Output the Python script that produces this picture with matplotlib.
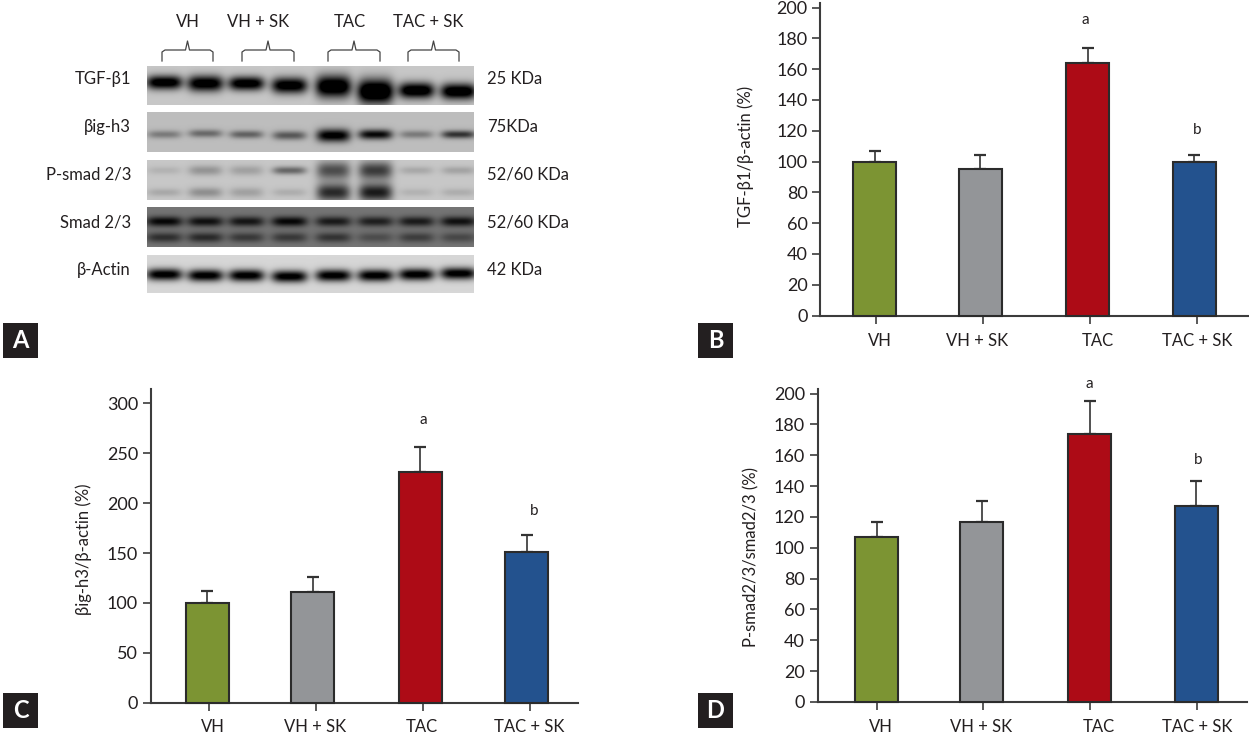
import matplotlib
matplotlib.use('Agg')
import matplotlib.pyplot as plt
from matplotlib.patches import Rectangle
import numpy as np

plt.rcParams['font.family'] = ['Lato', 'Noto Sans', 'DejaVu Sans']

W, H = 1249, 738
TXT = '#231f20'
AXC = '#3c3c3c'
FS = 12

# === BAR DATA ===
groups = ['VH', 'VH + SK', 'TAC', 'TAC + SK']
bar_colors = ['#7c9433', '#939598', '#ad0b16', '#23528e']

tgf_vals = [100, 95, 164, 100]
tgf_errs = [7, 9, 10, 4.5]
big_vals = [100, 111, 231, 151]
big_errs = [12, 15, 25, 17]
psmad_vals = [107, 117, 174, 127]
psmad_errs = [10, 13, 21, 16]

# === BLOT DATA ===
blot_names = ['TGF-β1', 'βig-h3', 'P-smad 2/3', 'Smad 2/3', 'β-Actin']
blot_sizes = ['25 KDa', '75KDa', '52/60 KDa', '52/60 KDa', '42 KDa']
lane_x = [164, 205, 246, 289, 333, 375, 416, 458]
blot_bg = [0.78, 0.74, 0.78, 0.46, 0.84]

tgf_dark = [0.9, 0.9, 0.9, 0.9, 1.0, 1.1, 0.95, 0.95]
tgf_band_y = [16, 17, 17, 19, 20, 25, 24, 25]
tgf_band_h = [7, 8, 7, 8, 11, 12, 8, 8]
big_dark = [0.26, 0.33, 0.36, 0.40, 0.80, 0.72, 0.26, 0.55]
big_band_y = [22, 21, 22, 23, 23, 22, 22, 22]
big_band_h = [4, 4, 4, 4.5, 6.5, 5, 4, 4]
psmad_dark_top = [0.08, 0.20, 0.15, 0.38, 0.48, 0.55, 0.12, 0.14]
psmad_dark_low = [0.12, 0.22, 0.15, 0.10, 0.62, 0.68, 0.08, 0.10]
psmad_band_h = [4, 5, 5, 4, 9, 9, 4, 4]
smad_dark_top = [0.44, 0.40, 0.38, 0.44, 0.36, 0.34, 0.36, 0.40]
smad_dark_low = [0.28, 0.30, 0.24, 0.24, 0.26, 0.16, 0.22, 0.18]
actin_dark = [0.90, 0.90, 0.90, 0.90, 0.90, 0.90, 0.90, 0.90]
actin_band_y = [19, 20, 20, 21, 20, 20, 19, 18]


def px_axes(fig, x0, x1, y_bottom, y_top):
    return fig.add_axes([x0 / W, 1 - y_bottom / H, (x1 - x0) / W, (y_bottom - y_top) / H])


def bar_panel(fig, vals, errs, bar_x, tick_x, box, y_at, ticks):
    x0, x1, yb, yt = box
    ax = px_axes(fig, x0, x1, yb, yt)
    # y_at = (value, pixel row) of the top tick
    ymax = y_at[0] * (yb - yt) / (yb - y_at[1])
    ax.bar(bar_x, vals, width=43, color=bar_colors, edgecolor='#2b2b2b', linewidth=1.5, zorder=3, clip_on=False)
    ax.errorbar(bar_x, vals, yerr=[[0] * 4, errs], fmt='none', ecolor='#333333', elinewidth=1.2,
                capsize=4.5, capthick=1.6, zorder=2)
    ax.set_xlim(x0, x1)
    ax.set_ylim(0, ymax)
    ax.set_xticks(tick_x)
    ax.set_xticklabels([])
    ax.set_yticks(ticks)
    ax.tick_params(axis='y', length=6, width=1.2, color=AXC, labelsize=13, labelcolor=TXT, pad=3)
    ax.tick_params(axis='x', length=6, width=1.2, color=AXC)
    ax.spines['top'].set_visible(False)
    ax.spines['right'].set_visible(False)
    ax.spines['left'].set_color(AXC)
    ax.spines['bottom'].set_color(AXC)
    ax.spines['left'].set_linewidth(1.5)
    ax.spines['bottom'].set_linewidth(1.5)
    ax.patch.set_alpha(0)
    return ax


def blot_image(x0, x1, y0, y1, bg, bands):
    # bands: (lane centre, band row, half width, half height, darkness)
    xx, yy = np.meshgrid(np.arange(x0, x1), np.arange(y1 - y0))
    img = np.full(xx.shape, bg, dtype=float)
    for cx, cy, hw, hh, d in bands:
        img -= d * np.exp(-((xx - cx) / hw) ** 4 - ((yy - cy) / hh) ** 2)
    return np.clip(img, 0, 1)


fig = plt.figure(figsize=(W / 100, H / 100), dpi=100, facecolor='white')

bar_panel(fig, tgf_vals, tgf_errs, [875, 980.5, 1088, 1194.5], [876, 983, 1090, 1197],
          (820, 1248, 315.5, 3), (200, 7.5), range(0, 201, 20))
bar_panel(fig, big_vals, big_errs, [207, 312.5, 420, 526.5], [209, 316, 423, 530],
          (150.5, 578, 702.5, 389), (300, 403.5), range(0, 301, 50))
bar_panel(fig, psmad_vals, psmad_errs, [876.5, 981.5, 1089.5, 1196], [877, 983, 1090, 1197],
          (817.5, 1247, 702, 389), (200, 393.5), range(0, 201, 20))

# overlay in image pixels for text and the blot
ov = fig.add_axes([0, 0, 1, 1], zorder=5)
ov.axis('off')
ov.patch.set_alpha(0)

blot_rows = [(66, 105), (112, 152), (160, 200), (207, 247), (255, 293)]
blot_bands = [
    [(x, y, 18, h, d) for x, y, h, d in zip(lane_x, tgf_band_y, tgf_band_h, tgf_dark)],
    [(x, y, 17, h, d) for x, y, h, d in zip(lane_x, big_band_y, big_band_h, big_dark)],
    [(x, 10, 17, h, d) for x, h, d in zip(lane_x, psmad_band_h, psmad_dark_top)]
    + [(x, 32, 17, h, d) for x, h, d in zip(lane_x, psmad_band_h, psmad_dark_low)],
    [(x, 14, 18, 5, d) for x, d in zip(lane_x, smad_dark_top)]
    + [(x, 30, 18, 5, d) for x, d in zip(lane_x, smad_dark_low)],
    [(x, y, 18, 6, d) for x, y, d in zip(lane_x, actin_band_y, actin_dark)],
]
for (y0, y1), bg, bands in zip(blot_rows, blot_bg, blot_bands):
    img = blot_image(147, 474, y0, y1, bg, bands)
    ov.imshow(img, cmap='gray', vmin=0, vmax=1, extent=(147, 474, y1, y0), aspect='auto', interpolation='bilinear')

ov.set_xlim(0, W)
ov.set_ylim(H, 0)

# blot labels
name_y = [79, 127, 175, 222, 270]
for name, size, y in zip(blot_names, blot_sizes, name_y):
    ov.text(131, y, name, ha='right', va='center', fontsize=FS, color=TXT)
    ov.text(487, y, size, ha='left', va='center', fontsize=FS, color=TXT)

# brackets over the lanes
bracket_x = [(162, 213), (242, 294), (328, 380), (408, 459)]
group_x = [188, 258, 350, 428]
for g, gx, (a, b) in zip(groups, group_x, bracket_x):
    ov.text(gx, 22, g, ha='center', va='center', fontsize=FS, color=TXT)
    m = (a + b) / 2
    ov.plot([a, a, a + 3, m - 2, m, m + 2, b - 3, b, b], [61, 52, 50, 50, 41, 50, 50, 52, 61],
            color='#444444', linewidth=0.9)

# x category labels
cat_x = [[880, 977, 1098, 1197], [213, 315, 422, 529], [881, 981, 1099, 1197]]
cat_y = [341, 727, 727]
for xs, y in zip(cat_x, cat_y):
    for g, x in zip(groups, xs):
        ov.text(x, y, g, ha='center', va='center', fontsize=FS, color=TXT)

# y axis titles
ov.text(745.5, 156, 'TGF-β1/β-actin (%)', rotation=90, ha='center', va='center', fontsize=FS, color=TXT)
ov.text(84, 549, 'βig-h3/β-actin (%)', rotation=90, ha='center', va='center', fontsize=FS, color=TXT)
ov.text(751, 557, 'P-smad2/3/smad2/3 (%)', rotation=90, ha='center', va='center', fontsize=FS, color=TXT)

# significance letters
ov.text(1085, 20, 'a', ha='center', va='center', fontsize=11, color=TXT)
ov.text(1197, 130, 'b', ha='center', va='center', fontsize=11, color=TXT)
ov.text(423, 420, 'a', ha='center', va='center', fontsize=11, color=TXT)
ov.text(534, 511, 'b', ha='center', va='center', fontsize=11, color=TXT)
ov.text(1089, 384, 'a', ha='center', va='center', fontsize=11, color=TXT)
ov.text(1198, 460, 'b', ha='center', va='center', fontsize=11, color=TXT)

# panel letters
for letter, bx, by in [('A', 3, 323), ('B', 698, 323), ('C', 3, 693), ('D', 698, 693)]:
    ov.add_patch(Rectangle((bx, by), 35, 35, facecolor=TXT, edgecolor='none'))
    ov.text(bx + 17.5, by + 18, letter, ha='center', va='center', fontsize=17, fontweight='bold', color='white')

fig.savefig('out.png', dpi=100, facecolor='white')
